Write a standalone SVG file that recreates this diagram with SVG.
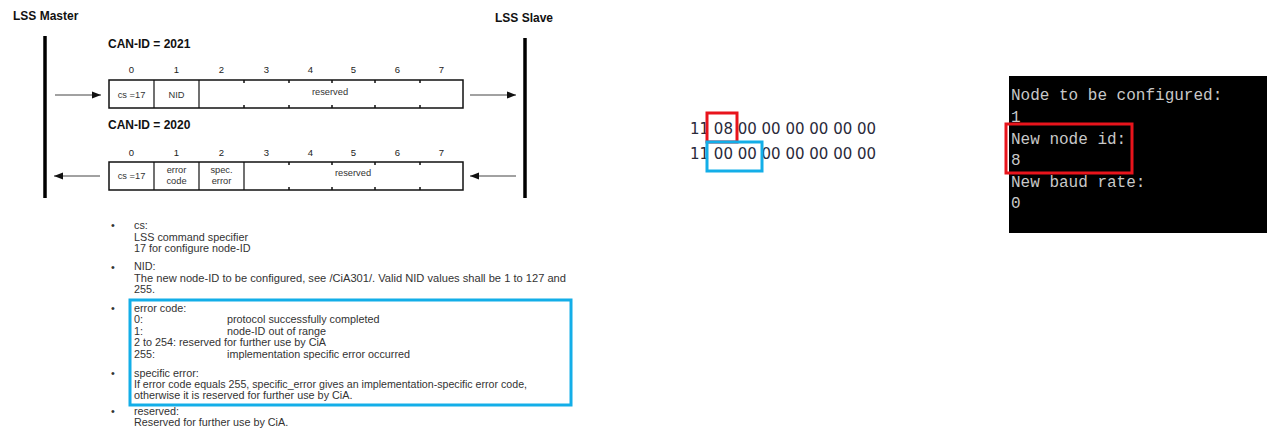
<svg xmlns="http://www.w3.org/2000/svg" width="1267" height="431" viewBox="0 0 1267 431">
<style>
.hd{font-family:"Liberation Sans",Arial,sans-serif;font-weight:bold;font-size:12px;fill:#111}
.num{font-family:"Liberation Sans",Arial,sans-serif;font-size:9.5px;fill:#222;text-anchor:middle}
.cell{font-family:"Liberation Sans",Arial,sans-serif;font-size:9.3px;fill:#333;text-anchor:middle}
.body{font-family:"Liberation Sans",Arial,sans-serif;font-size:10.8px;fill:#333}
.frame{fill:#fff;stroke:#111;stroke-width:1.5}
.div{stroke:#111;stroke-width:1.2}
.tick{stroke:#111;stroke-width:1.5}
.bar{stroke:#000;stroke-width:3.5}
.arr{stroke:#444;stroke-width:1;fill:none}
.hex{font-family:"DejaVu Sans",Verdana,sans-serif;font-size:15px;fill:#2a2a3a}
.con{font-family:"Liberation Mono","DejaVu Sans Mono",monospace;font-size:16px;fill:#c8c8c8}
.red{fill:none;stroke:#e8141c;stroke-width:3}
.blue{fill:none;stroke:#13aee8;stroke-width:3}
</style>
<defs>
<marker id="ah" viewBox="0 0 10 10" refX="10" refY="5" markerWidth="9" markerHeight="9" markerUnits="userSpaceOnUse" orient="auto">
<path d="M0,1 L10,5 L0,9 z" fill="#111"/>
</marker>
</defs>
<rect width="1267" height="431" fill="#fff"/>

<g id="lss-master">
<text class="hd" x="13" y="20">LSS Master</text>
<line class="bar" x1="45" y1="36" x2="45" y2="198"/>
</g>
<g id="lss-slave">
<text class="hd" x="495" y="22">LSS Slave</text>
<line class="bar" x1="525" y1="38" x2="525" y2="198"/>
</g>

<g id="frame-2021">
<text class="hd" x="108" y="48">CAN-ID = 2021</text>
<text class="num" x="131.5" y="72.5">0</text>
<text class="num" x="176.5" y="72.5">1</text>
<text class="num" x="221.5" y="72.5">2</text>
<text class="num" x="266.5" y="72.5">3</text>
<text class="num" x="310.5" y="72.5">4</text>
<text class="num" x="353.5" y="72.5">5</text>
<text class="num" x="397.5" y="72.5">6</text>
<text class="num" x="441.5" y="72.5">7</text>
<rect class="frame" x="109" y="80" width="354" height="28"/>
<line class="div" x1="154" y1="80" x2="154" y2="108"/>
<line class="div" x1="199" y1="80" x2="199" y2="108"/>
<path class="tick" d="M244,80v3M244,108v-3M289,80v3M289,108v-3M332,80v3M332,108v-3M375,80v3M375,108v-3M420,80v3M420,108v-3"/>
<text class="cell" x="131.5" y="97.5">cs =17</text>
<text class="cell" x="176.5" y="97.5">NID</text>
<text class="cell" x="330" y="95">reserved</text>
</g>

<g id="frame-2020">
<text class="hd" x="108" y="129">CAN-ID = 2020</text>
<text class="num" x="131.5" y="155.5">0</text>
<text class="num" x="176.5" y="155.5">1</text>
<text class="num" x="221.5" y="155.5">2</text>
<text class="num" x="266.5" y="155.5">3</text>
<text class="num" x="310.5" y="155.5">4</text>
<text class="num" x="353.5" y="155.5">5</text>
<text class="num" x="397.5" y="155.5">6</text>
<text class="num" x="441.5" y="155.5">7</text>
<rect class="frame" x="109" y="162" width="354" height="28"/>
<line class="div" x1="154" y1="162" x2="154" y2="190"/>
<line class="div" x1="199" y1="162" x2="199" y2="190"/>
<line class="div" x1="244" y1="162" x2="244" y2="190"/>
<path class="tick" d="M289,162v3M289,190v-3M332,162v3M332,190v-3M375,162v3M375,190v-3M420,162v3M420,190v-3"/>
<text class="cell" x="131.5" y="179">cs =17</text>
<text class="cell" x="176.5" y="172.5">error</text>
<text class="cell" x="176.5" y="183.5">code</text>
<text class="cell" x="221.5" y="172.5">spec.</text>
<text class="cell" x="221.5" y="183.5">error</text>
<text class="cell" x="353" y="176">reserved</text>
</g>

<g id="connectors">
<line class="arr" x1="55" y1="95" x2="101" y2="95" marker-end="url(#ah)"/>
<line class="arr" x1="470" y1="95" x2="516" y2="95" marker-end="url(#ah)"/>
<line class="arr" x1="100" y1="176" x2="54" y2="176" marker-end="url(#ah)"/>
<line class="arr" x1="516" y1="176" x2="470" y2="176" marker-end="url(#ah)"/>
</g>

<g id="description">
<text class="body" x="111" y="229">•</text>
<text class="body" x="134" y="228.5">cs:</text>
<text class="body" x="134" y="240.5">LSS command specifier</text>
<text class="body" x="134" y="252">17 for configure node-ID</text>
<text class="body" x="111" y="270.5">•</text>
<text class="body" x="134" y="270">NID:</text>
<text class="body" x="134" y="281.5" textLength="432" lengthAdjust="spacingAndGlyphs">The new node-ID to be configured, see /CiA301/. Valid NID values shall be 1 to 127 and</text>
<text class="body" x="134" y="293">255.</text>
<text class="body" x="111" y="312">•</text>
<text class="body" x="134" y="311.5">error code:</text>
<text class="body" x="134" y="323">0:</text>
<text class="body" x="227" y="323">protocol successfully completed</text>
<text class="body" x="134" y="334.5">1:</text>
<text class="body" x="227" y="334.5">node-ID out of range</text>
<text class="body" x="134" y="346">2 to 254: reserved for further use by CiA</text>
<text class="body" x="134" y="357.5">255:</text>
<text class="body" x="227" y="357.5">implementation specific error occurred</text>
<text class="body" x="111" y="377">•</text>
<text class="body" x="134" y="376.5">specific error:</text>
<text class="body" x="134" y="388" textLength="393" lengthAdjust="spacingAndGlyphs">If error code equals 255, specific_error gives an implementation-specific error code,</text>
<text class="body" x="134" y="399">otherwise it is reserved for further use by CiA.</text>
<text class="body" x="111" y="415">•</text>
<text class="body" x="134" y="414.5">reserved:</text>
<text class="body" x="134" y="426">Reserved for further use by CiA.</text>
<rect class="blue" x="130" y="300" width="441" height="105"/>
</g>

<g id="hex-bytes">
<text class="hex" x="690" y="134">11 08 00 00 00 00 00 00</text>
<text class="hex" x="690" y="159">11 00 00 00 00 00 00 00</text>
<rect class="red" x="707" y="113" width="30" height="29"/>
<rect class="blue" x="707" y="142" width="55" height="29"/>
</g>

<g id="console">
<rect x="1009" y="76" width="258" height="157" fill="#000"/>
<text class="con" x="1011" y="100">Node to be configured:</text>
<text class="con" x="1011" y="122">1</text>
<text class="con" x="1011" y="143.5">New node id:</text>
<text class="con" x="1011" y="165">8</text>
<text class="con" x="1011" y="187">New baud rate:</text>
<text class="con" x="1011" y="208">0</text>
<rect class="red" x="1006" y="124" width="126" height="49"/>
</g>
</svg>
